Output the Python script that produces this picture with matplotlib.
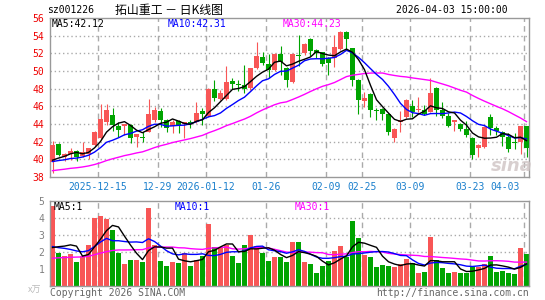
import numpy as np
import pandas as pd
import matplotlib
matplotlib.use("Agg")
import matplotlib.pyplot as plt

W, H = 545, 300
RED = "#f85656"
GREEN = "#00a400"
GRID = "#aaaaaa"
MONO = "DejaVu Sans Mono"
CJK = ["Noto Sans CJK SC", "DejaVu Sans"]

# trading days shown (2025-12-03 .. 2026-04-03, exchange holidays removed)
holidays = ["2026-01-01", "2026-01-02", "2026-02-16", "2026-02-17",
            "2026-02-18", "2026-02-19", "2026-02-20", "2026-02-23"]
days = pd.bdate_range("2025-12-03", "2026-04-03")
days = days[~days.isin(pd.to_datetime(holidays))]

open_ = [39.66, 41.74, 40.30, 40.57, 40.94, 40.40, 40.57, 41.62, 42.38, 44.26,
         45.02, 43.77, 43.77, 43.92, 42.57, 42.49, 43.13, 44.45, 45.43, 44.45,
         43.77, 44.30, 44.00, 44.19, 44.19, 45.47, 44.94, 47.96, 46.83, 46.83,
         48.87, 48.53, 48.41, 48.04, 50.30, 51.62, 50.79, 50.11, 51.89, 50.38,
         48.72, 51.77, 52.00, 53.62, 52.38, 52.11, 51.43, 51.43, 52.49, 54.45,
         52.57, 48.98, 46.60, 47.40, 45.55, 45.70, 45.09, 42.38, 44.26, 44.83,
         46.08, 45.58, 45.58, 45.40, 48.04, 45.58, 44.94, 44.19, 44.04, 43.43,
         42.45, 41.32, 41.43, 44.83, 43.50, 43.06, 42.57, 42.00, 42.00, 43.77]
high = [42.08, 41.80, 40.75, 41.25, 41.10, 42.00, 41.30, 43.20, 46.26, 46.26,
        45.85, 44.26, 43.98, 43.98, 42.92, 43.06, 46.83, 45.92, 45.77, 44.60,
        44.45, 44.45, 44.26, 44.45, 46.50, 45.77, 48.04, 48.98, 47.85, 50.60,
        49.17, 49.00, 50.68, 50.38, 53.25, 52.11, 51.89, 52.00, 52.87, 50.50,
        52.00, 54.08, 53.15, 53.70, 52.50, 52.19, 51.62, 54.08, 54.53, 54.53,
        52.64, 49.06, 47.66, 47.47, 45.77, 45.77, 45.20, 43.50, 45.47, 46.83,
        46.72, 47.09, 46.15, 49.25, 48.23, 46.53, 45.20, 44.45, 44.15, 44.34,
        42.57, 41.70, 43.77, 45.09, 43.81, 43.20, 42.94, 42.94, 43.77, 43.80]
low = [38.50, 40.40, 39.80, 39.90, 39.85, 40.30, 40.04, 41.50, 42.30, 43.90,
       43.20, 42.57, 42.75, 41.81, 41.43, 42.00, 43.06, 44.26, 43.70, 43.06,
       43.00, 42.94, 42.45, 43.60, 44.15, 43.89, 44.83, 46.60, 46.70, 46.70,
       47.96, 47.74, 47.47, 47.90, 50.20, 50.68, 49.17, 50.00, 49.55, 48.23,
       48.60, 50.60, 51.80, 51.74, 51.43, 50.60, 49.55, 50.49, 52.38, 52.38,
       48.34, 45.13, 45.96, 44.83, 44.45, 44.45, 42.75, 42.00, 43.13, 44.70,
       44.83, 45.32, 45.00, 45.32, 44.94, 44.64, 43.70, 43.20, 43.20, 42.57,
       40.04, 40.30, 41.32, 42.75, 42.75, 41.55, 40.87, 41.17, 40.57, 40.30]
close = [41.62, 40.49, 40.57, 40.94, 40.30, 40.83, 41.28, 43.13, 44.57, 45.58,
         43.89, 43.32, 43.96, 42.45, 42.90, 42.42, 45.09, 45.55, 44.45, 43.50,
         44.26, 43.89, 44.19, 44.00, 45.25, 45.09, 47.96, 46.90, 47.47, 48.72,
         48.57, 48.45, 47.96, 50.30, 51.70, 50.94, 50.11, 51.89, 51.00, 48.98,
         51.92, 51.70, 53.06, 52.30, 52.00, 50.79, 50.87, 52.68, 54.45, 53.62,
         48.98, 46.72, 46.98, 45.58, 45.47, 45.09, 43.06, 43.43, 44.42, 46.72,
         45.32, 45.70, 45.09, 47.47, 45.58, 44.94, 43.81, 44.45, 43.40, 42.75,
         40.49, 41.62, 43.70, 43.50, 43.20, 42.57, 41.17, 41.81, 43.77, 41.28]
volume = [4.70, 1.96, 1.78, 1.86, 1.43, 1.78, 2.41, 4.02, 4.14, 3.94,
          3.31, 1.96, 1.31, 1.53, 1.53, 1.43, 4.61, 2.41, 1.49, 1.20,
          1.43, 1.37, 1.92, 1.20, 1.53, 1.78, 3.65, 2.31, 2.22, 2.41,
          1.76, 1.37, 2.41, 3.00, 2.37, 1.96, 1.49, 1.73, 1.73, 1.43,
          2.61, 2.61, 1.43, 1.29, 0.78, 1.20, 1.49, 2.08, 2.37, 1.73,
          3.84, 2.84, 1.82, 1.73, 1.14, 1.24, 1.20, 1.14, 1.29, 1.59,
          1.37, 0.78, 0.84, 2.90, 1.53, 1.08, 0.78, 0.84, 0.78, 0.78,
          1.18, 1.14, 1.29, 1.76, 0.84, 0.88, 0.78, 0.71, 2.25, 1.88]

# sessions before the window, estimated from where the MA lines start
pre_close = [37.9, 38.2, 38.0, 38.4, 38.1, 37.8, 38.3, 38.5, 38.2, 37.9,
             38.0, 38.4, 38.3, 38.1, 38.6, 38.2, 38.0, 38.3, 38.4, 38.4,
             39.4, 39.7, 39.5, 39.8, 39.6, 39.3, 39.6, 39.5, 39.5]
pre_vol = [1.2, 1.4, 1.3, 1.1, 1.5, 1.3, 1.2, 1.4, 1.3, 1.2,
           1.1, 1.3, 1.4, 1.2, 1.3, 1.5, 1.2, 1.3, 1.2, 1.4,
           2.6, 2.2, 2.5, 2.3, 2.3, 1.7, 1.6, 1.5, 1.8]

# legend values as printed on the chart
price_ma_text = ["MA5:42.12", "MA10:42.31", "MA30:44.23"]
vol_ma_text = ["MA5:1", "MA10:1", "MA30:1"]

tick_dates = ["2025-12-15", "2025-12-29", "2026-01-12", "2026-01-26", "2026-02-09",
              "2026-02-25", "2026-03-09", "2026-03-23", "2026-04-03"]
tick_labels = ["2025-12-15", "12-29", "2026-01-12", "01-26", "02-09",
               "02-25", "03-09", "03-23", "04-03"]


def moving(pre, vals, n):
    s = pd.Series(pre + vals).rolling(n).mean()
    return s.iloc[len(pre):].to_numpy()


def px(x, y):
    return x / W, 1 - y / H


n = len(close)
x = np.arange(n)
o, h, l, c = map(np.array, (open_, high, low, close))
col = np.where(c >= o, RED, GREEN)
tick_idx = [days.get_loc(pd.Timestamp(d)) for d in tick_dates]
half = 2.5 / 6
ma_colors = ["black", "#0000ff", "#ff00ff"]

fig = plt.figure(figsize=(W / 100, H / 100), dpi=100)
ax = fig.add_axes([50 / W, (H - 177) / H, 479 / W, 159 / H])
axv = fig.add_axes([50 / W, (H - 286) / H, 479 / W, 85 / H])

for a in (ax, axv):
    a.set_xlim(-half, n - 1 + half)
    for t in tick_idx:
        a.axvline(t - half, color=GRID, lw=1, ls=(0, (4, 3)), zorder=0)
    for s in a.spines.values():
        s.set_color("#999999")
        s.set_linewidth(1)
    a.set_xticks([])
    a.tick_params(axis="y", length=0, pad=4, labelsize=7)

# price panel
ax.set_ylim(38, 56)
for yv in range(40, 56, 2):
    ax.axhline(yv, color=GRID, lw=1, ls=(0, (1, 2)), zorder=0)
ax.vlines(x, l, h, colors=col, lw=0.8, zorder=2)
ax.bar(x, np.maximum(np.abs(c - o), 0.06), bottom=np.minimum(o, c), width=0.83,
       color=col, linewidth=0, zorder=3)
for win, mc in zip((30, 10, 5), ma_colors[::-1]):
    ax.plot(x, moving(pre_close, close, win), color=mc, lw=1, zorder=4)
ax.set_yticks(range(38, 57, 2))
ax.set_yticklabels([str(v) for v in range(38, 57, 2)], family=MONO, color="#ee0000", fontsize=7)

for t, lab in zip(tick_idx, tick_labels):
    last = lab == tick_labels[-1]
    ax.text(t - 1.1 if last else t - half, -10 / 159, lab, transform=ax.get_xaxis_transform(),
            ha="right" if last else "center", va="center", family=MONO, fontsize=7, color="#1a7fcc")

fig.text(*px(512, 166), "sina", ha="center", va="center", fontsize=13, style="italic",
         weight="bold", color="#cfc4c4", alpha=0.8, zorder=1)

# volume panel
axv.set_ylim(0, 5)
for yv in (2, 3, 4):
    axv.axhline(yv, color=GRID, lw=1, ls=(0, (1, 2)), zorder=0)
axv.bar(x, volume, width=0.83, color=col, linewidth=0, zorder=2)
for win, mc in zip((30, 10, 5), ma_colors[::-1]):
    axv.plot(x, moving(pre_vol, volume, win), color=mc, lw=1, zorder=3)
axv.set_yticks([1, 2, 3, 4, 5])
axv.set_yticklabels(["1", "2", "3", "4", "5"], family=MONO, color="#808080", fontsize=7)

# header / legend texts
fig.text(*px(47, 10), "sz001226", family=MONO, fontsize=7, va="center")
fig.text(*px(115, 10), "拓山重工 － 日K线图", family=CJK, fontsize=8.6, va="center")
fig.text(*px(508, 10), "2026-04-03 15:00:00", family=MONO, fontsize=7, va="center", ha="right")
for xp, txt, mc in zip((52, 168, 283), price_ma_text, ma_colors):
    fig.text(*px(xp, 24), txt, family=MONO, fontsize=7, va="center", color=mc)
for xp, txt, mc in zip((54, 175, 295), vol_ma_text, ma_colors):
    fig.text(*px(xp, 207), txt, family=MONO, fontsize=7, va="center", color=mc)
fig.text(*px(28, 290), "x万", family=CJK, fontsize=6.5, va="center", color="#bbbbbb")
fig.text(*px(50, 293), "Copyright 2026 SINA.COM", family=MONO, fontsize=7, va="center", color="#666666")
fig.text(*px(529, 293), "http://finance.sina.com.cn", family=MONO, fontsize=7, va="center",
         ha="right", color="#666666")

fig.savefig("out.png", dpi=100)
